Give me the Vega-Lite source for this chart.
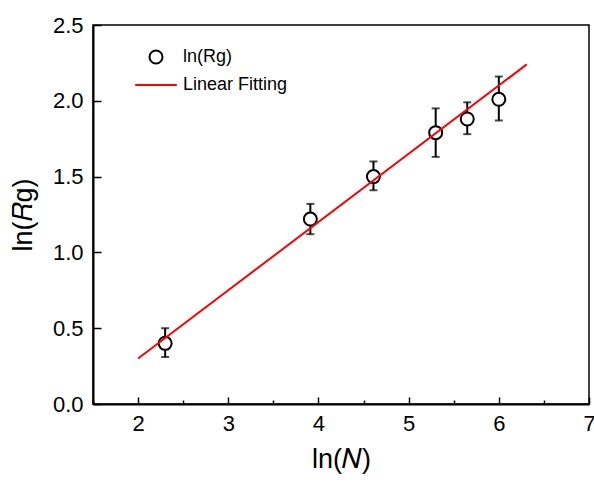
{
  "$schema": "https://vega.github.io/schema/vega-lite/v6.json",
  "autosize": {"type": "none"},
  "padding": {"left": 93, "top": 25, "right": 5, "bottom": 79},
  "width": 496,
  "height": 379,
  "background": "white",
  "config": {
    "font": "Liberation Sans",
    "view": {"stroke": "black", "strokeWidth": 1.5},
    "axis": {
      "domainColor": "black",
      "domainWidth": 2,
      "tickColor": "black",
      "tickWidth": 1.5,
      "grid": false,
      "labelFont": "Liberation Sans",
      "labelFontSize": 22,
      "labelColor": "black",
      "titleFont": "Liberation Sans",
      "titleFontSize": 27,
      "titleFontWeight": "normal",
      "titleColor": "black"
    }
  },
  "datasets": {
    "points": [
      {"lnN": 2.30, "lnRg": 0.40, "lo": 0.31, "hi": 0.50, "series": "ln(Rg)"},
      {"lnN": 3.91, "lnRg": 1.22, "lo": 1.12, "hi": 1.32, "series": "ln(Rg)"},
      {"lnN": 4.61, "lnRg": 1.50, "lo": 1.41, "hi": 1.60, "series": "ln(Rg)"},
      {"lnN": 5.30, "lnRg": 1.79, "lo": 1.63, "hi": 1.95, "series": "ln(Rg)"},
      {"lnN": 5.65, "lnRg": 1.88, "lo": 1.78, "hi": 1.99, "series": "ln(Rg)"},
      {"lnN": 6.00, "lnRg": 2.01, "lo": 1.87, "hi": 2.16, "series": "ln(Rg)"}
    ],
    "fit": [
      {"lnN": 2.0, "lnRg": 0.30, "series": "Linear Fitting"},
      {"lnN": 6.31, "lnRg": 2.24, "series": "Linear Fitting"}
    ]
  },
  "layer": [
    {
      "data": {"name": "points"},
      "mark": {"type": "rule", "color": "black", "strokeWidth": 2},
      "encoding": {
        "x": {"field": "lnN", "type": "quantitative"},
        "y": {"field": "lo", "type": "quantitative"},
        "y2": {"field": "hi"}
      }
    },
    {
      "data": {"name": "points"},
      "mark": {"type": "tick", "orient": "horizontal", "color": "black", "size": 8, "thickness": 2},
      "encoding": {
        "x": {"field": "lnN", "type": "quantitative"},
        "y": {"field": "lo", "type": "quantitative"}
      }
    },
    {
      "data": {"name": "points"},
      "mark": {"type": "tick", "orient": "horizontal", "color": "black", "size": 8, "thickness": 2},
      "encoding": {
        "x": {"field": "lnN", "type": "quantitative"},
        "y": {"field": "hi", "type": "quantitative"}
      }
    },
    {
      "data": {"name": "points"},
      "mark": {"type": "point", "filled": false, "fill": "white", "fillOpacity": 1, "strokeWidth": 2, "size": 169, "opacity": 1},
      "encoding": {
        "x": {
          "field": "lnN", "type": "quantitative",
          "scale": {"domain": [1.5, 7], "nice": false, "zero": false},
          "axis": {
            "title": "ln(𝑁)",
            "values": [1.5, 2, 2.5, 3, 3.5, 4, 4.5, 5, 5.5, 6, 6.5, 7],
            "labelExpr": "round(datum.value * 10) % 10 === 0 ? format(datum.value, '.0f') : ''",
            "tickSize": {"condition": {"test": "round(datum.value * 10) % 10 === 0", "value": -7}, "value": -4},
            "labelPadding": 16,
            "titlePadding": 9,
            "labelFlush": false,
            "labelOverlap": false
          }
        },
        "y": {
          "field": "lnRg", "type": "quantitative",
          "scale": {"domain": [0, 2.5], "nice": false},
          "axis": {
            "title": "ln(𝑅g)",
            "values": [0, 0.25, 0.5, 0.75, 1, 1.25, 1.5, 1.75, 2, 2.25, 2.5],
            "labelExpr": "round(datum.value * 100) % 50 === 0 ? datum.label : ''",
            "format": ".1f",
            "tickSize": {"condition": {"test": "round(datum.value * 100) % 50 === 0", "value": -8}, "value": -4},
            "labelPadding": 18,
            "titlePadding": 15,
            "labelFlush": false,
            "labelOverlap": false
          }
        },
        "color": {
          "field": "series", "type": "nominal",
          "scale": {"domain": ["ln(Rg)", "Linear Fitting"], "range": ["black", "red"]},
          "legend": {
            "title": null,
            "orient": "none",
            "legendX": 54,
            "legendY": 23,
            "padding": 0,
            "labelFontSize": 18,
            "labelFont": "Liberation Sans",
            "labelColor": "black",
            "labelOffset": 18,
            "rowPadding": 8,
            "symbolSize": 169,
            "symbolStrokeWidth": 2
          }
        },
        "shape": {
          "field": "series", "type": "nominal",
          "scale": {"domain": ["ln(Rg)", "Linear Fitting"], "range": ["circle", "M-3.2,0L3.2,0"]},
          "legend": {
            "title": null,
            "orient": "none",
            "legendX": 54,
            "legendY": 23,
            "padding": 0,
            "labelFontSize": 18,
            "labelFont": "Liberation Sans",
            "labelColor": "black",
            "labelOffset": 18,
            "rowPadding": 8,
            "symbolSize": 169,
            "symbolStrokeWidth": 2
          }
        }
      }
    },
    {
      "data": {"name": "fit"},
      "mark": {"type": "line", "strokeWidth": 2},
      "encoding": {
        "x": {"field": "lnN", "type": "quantitative"},
        "y": {"field": "lnRg", "type": "quantitative"},
        "color": {"field": "series", "type": "nominal"}
      }
    }
  ]
}
